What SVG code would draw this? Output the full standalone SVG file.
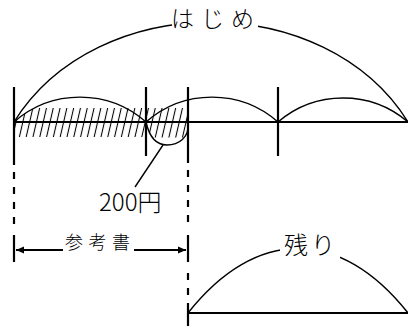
<svg xmlns="http://www.w3.org/2000/svg" width="408" height="326" viewBox="0 0 408 326">
  <style>
    .bold { stroke: #000; stroke-width: 2.2; fill: none; }
    .thin { stroke: #000; stroke-width: 1.4; fill: none; }
    .dash { stroke: #000; stroke-width: 2.2; fill: none; stroke-dasharray: 7 8; }
    .lbl { font-family: "Noto Sans CJK JP", "Noto Sans", sans-serif; fill: #000; font-weight: 300; }
  </style>
  <defs>
    <pattern id="hatch" patternUnits="userSpaceOnUse" width="6.8" height="10" patternTransform="skewX(-13)">
      <line x1="3.4" y1="-1" x2="3.4" y2="11" stroke="#000" stroke-width="1.1"/>
    </pattern>
    <clipPath id="hclip">
      <rect x="0" y="100" width="408" height="37.5"/>
    </clipPath>
    <mask id="gap" maskUnits="userSpaceOnUse" x="0" y="0" width="408" height="326">
      <rect x="0" y="0" width="408" height="326" fill="#fff"/>
      <rect x="172" y="0" width="86" height="34" fill="#000"/>
      <rect x="280" y="226" width="60" height="36" fill="#000"/>
    </mask>
    <marker id="ah" markerWidth="9" markerHeight="8" refX="8" refY="4" orient="auto" markerUnits="userSpaceOnUse">
      <path d="M0,0.5 L8,4 L0,7.5 Z" fill="#000"/>
    </marker>
  </defs>

  <g id="hatching" clip-path="url(#hclip)">
    <path d="M14,122 A100,100 0 0 1 34.6,108 L188,108 L188,122 C190,138 178,145 167,145 C158,145 150,140 146,122 L146,137 L14,137 Z" fill="url(#hatch)"/>
  </g>

  <g id="connectors">
    <line class="bold" x1="14" y1="122" x2="408" y2="122"/>
    <line class="bold" x1="14" y1="87" x2="14" y2="165"/>
    <line class="bold" x1="146" y1="87" x2="146" y2="156"/>
    <line class="bold" x1="188" y1="87" x2="188" y2="163"/>
    <line class="bold" x1="278" y1="87" x2="278" y2="156"/>
    <path class="thin" d="M14,122 C97,-11 325,-11 408,122" mask="url(#gap)"/>
    <path class="thin" d="M14,122 A100,100 0 0 1 146,122 A100,100 0 0 1 278,122 A100,100 0 0 1 408,122"/>
    <path class="thin" d="M146,122 C150,140 158,145 167,145 C178,145 190,138 188,122"/>
    <line class="thin" x1="163" y1="145" x2="135" y2="187"/>
    <line class="dash" x1="14" y1="172" x2="14" y2="230"/>
    <line class="bold" x1="14" y1="235" x2="14" y2="262"/>
    <line class="dash" x1="188" y1="170" x2="188" y2="230"/>
    <line class="bold" x1="188" y1="235" x2="188" y2="262"/>
    <line class="dash" x1="188" y1="273" x2="188" y2="300"/>
    <line class="bold" x1="188" y1="303" x2="188" y2="326"/>
    <line class="bold" x1="63" y1="250" x2="16" y2="250" marker-end="url(#ah)"/>
    <line class="bold" x1="134" y1="250" x2="186" y2="250" marker-end="url(#ah)"/>
    <line class="bold" x1="188" y1="313" x2="408" y2="313"/>
    <path class="thin" d="M188,313 C256,227 340,227 408,313" mask="url(#gap)"/>
  </g>

  <g id="label-hajime">
    <text class="lbl" x="171" y="26.5" font-size="23" letter-spacing="7">はじめ</text>
  </g>
  <g id="label-200yen">
    <text class="lbl" x="99" y="211" font-size="24">200円</text>
  </g>
  <g id="label-sankousho">
    <text class="lbl" x="65" y="249" font-size="18" letter-spacing="5.5">参考書</text>
  </g>
  <g id="label-nokori">
    <text class="lbl" x="284" y="254" font-size="24" letter-spacing="3">残り</text>
  </g>
</svg>
